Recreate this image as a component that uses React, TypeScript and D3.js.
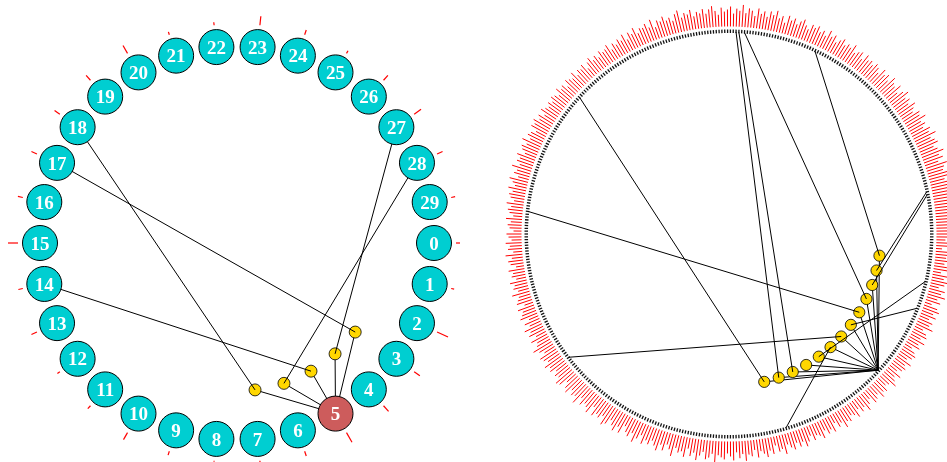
import React from "react";
import * as d3 from "d3";

// ---------- LEFT CHART DATA ----------
const leftNodes = d3.range(30); // node ids 0..29
const leftHub = 5;
const leftTickValues = [4, 3, 12, 7, 7.5, 11, 5, 1.5, 1, 4, 8, 4, 3, 6, 4.5, 10, 5, 6, 6.5, 6.5, 9, 3, 3, 9, 5, 3, 6.5, 8.5, 6, 4];
// targets of the yellow branch points, ordered by position (clockwise from hub-side start)
const leftBranchTargets = [17, 27, 14, 28, 18];

// ---------- RIGHT CHART DATA ----------
const rightCount = 450;
const rightHub = 53;
const rightBarValues = [
  12,15,9,17,13,6,14,18,11,16,10,13,19,8,15,12,17,14,9,16,13,18,11,15,7,14,17,12,16,10,
  15,13,18,9,14,16,11,17,12,15,8,13,16,14,10,17,12,15,13,9,16,11,14,18,12,10,15,13,17,11,
  14,16,9,13,18,12,15,10,17,13,11,16,14,19,12,15,9,17,13,16,11,18,14,12,16,10,15,19,13,17,
  12,18,15,11,20,14,16,9,17,13,19,15,12,18,10,16,14,20,13,17,11,19,15,12,18,16,14,21,13,17,
  19,12,16,21,14,18,11,20,15,17,13,22,16,12,19,14,21,17,13,18,15,20,12,17,22,14,19,16,11,20,
  15,21,17,13,19,22,14,18,16,20,12,21,17,15,19,13,22,16,18,14,20,17,12,19,21,15,17,13,18,16,
  20,14,17,19,12,16,21,15,13,18,11,17,14,19,12,16,10,18,15,13,17,9,16,14,12,18,11,15,13,17,
  10,14,12,16,8,13,15,11,17,9,14,12,16,10,13,15,8,12,14,11,16,9,13,15,12,17,10,14,16,13,
  18,12,15,19,11,16,14,20,13,17,15,19,12,16,18,14,20,13,17,15,11,18,16,19,14,17,12,18,15,13,
  16,13,17,15,12,18,14,16,11,17,15,13,18,12,16,14,17,10,15,18,13,16,12,17,14,15,18,11,16,13,
  17,14,19,12,18,15,20,13,17,16,19,14,21,12,18,16,20,15,17,13,19,22,14,18,16,20,13,17,15,19,
  14,18,21,16,12,19,15,17,20,13,18,16,22,14,19,17,12,20,15,18,13,19,16,21,14,17,11,19,15,18,
  13,17,20,15,12,18,16,19,14,17,13,20,15,18,12,16,19,14,17,15,20,13,16,18,12,19,15,17,14,18,
  16,12,19,15,18,13,20,16,14,19,12,17,21,15,18,14,20,16,13,19,17,22,15,18,14,20,17,23,16,19,
  21,15,18,23,17,20,14,22,18,16,21,19,15,24,17,20,16,22,18,14,20,17,19,15,21,13,18,16,20,14,
];
// far targets of each yellow branch point (ordered from smallest angle to largest)
const rightBranchTargets: number[][] = [
  [369], [435], [436], [343], [233], [27], [178], [92], [17], [], [341], [340], [278],
];

// ---------- LAYOUT ----------
const W = 947, H = 462;
const L = { cx: 237, cy: 243, R: 197, nodeR: 17.5, yR: 148, yr: 6, tick0: 219, spacing: 11.5 };
const Rt = { cx: 729, cy: 234, R: 202, t0: 201, t1: 204.5, bar0: 207.5, yR: 152, yr: 5.6, spacing: 5.7 };

const deg = Math.PI / 180;
function polar(cx: number, cy: number, r: number, a: number): [number, number] {
  return [cx + r * Math.cos(a), cy + r * Math.sin(a)];
}

export default function App() {
  // Left scales
  const angL = d3.scaleLinear().domain([0, leftNodes.length]).range([0, 2 * Math.PI]);
  const tickLen = d3.scaleLinear().domain([0, 1]).range([0, 1]);
  const hubA = angL(leftHub);
  const nL = leftBranchTargets.length;
  const leftYellow = leftBranchTargets.map((t, k) => {
    const a = hubA + (k - (nL - 1) / 2) * L.spacing * deg;
    return { t, p: polar(L.cx, L.cy, L.yR, a) };
  });
  const nodePos = (i: number) => polar(L.cx, L.cy, L.R, angL(i));
  const hubP = nodePos(leftHub);

  // Right scales
  const angR = d3.scaleLinear().domain([0, rightCount]).range([0, 2 * Math.PI]);
  const rHubA = angR(rightHub);
  const rHubP = polar(Rt.cx, Rt.cy, Rt.R, rHubA);
  const nR = rightBranchTargets.length;
  const rightYellow = rightBranchTargets.map((ts, k) => {
    const a = rHubA + (k - (nR - 1) / 2) * Rt.spacing * deg;
    return { ts, p: polar(Rt.cx, Rt.cy, Rt.yR, a) };
  });

  return (
    <svg width={W} height={H} style={{ position: "fixed", left: 0, top: 0 }}>
      {/* ===== LEFT ===== */}
      <g>
        {leftTickValues.map((v, i) => {
          const a = angL(i);
          const p0 = polar(L.cx, L.cy, L.tick0, a);
          const p1 = polar(L.cx, L.cy, L.tick0 + tickLen(v), a);
          return <line key={"lt" + i} x1={p0[0]} y1={p0[1]} x2={p1[0]} y2={p1[1]} stroke="#ff0000" strokeWidth={1.2} />;
        })}
        {leftYellow.map((y, k) => (
          <line key={"lh" + k} x1={hubP[0]} y1={hubP[1]} x2={y.p[0]} y2={y.p[1]} stroke="#000" strokeWidth={1} />
        ))}
        {leftYellow.map((y, k) => (
          <circle key={"ly" + k} cx={y.p[0]} cy={y.p[1]} r={L.yr} fill="#ffd700" stroke="#000" strokeWidth={0.8} />
        ))}
        {leftYellow.map((y, k) => {
          const tp = nodePos(y.t);
          return <line key={"lf" + k} x1={tp[0]} y1={tp[1]} x2={y.p[0]} y2={y.p[1]} stroke="#000" strokeWidth={1} />;
        })}
        {leftNodes.map((i) => {
          const p = nodePos(i);
          return (
            <g key={"ln" + i}>
              <circle cx={p[0]} cy={p[1]} r={L.nodeR} fill={i === leftHub ? "#cd5c5c" : "#00ced1"} stroke="#000" strokeWidth={1} />
              <text x={p[0]} y={p[1]} dy="0.35em" textAnchor="middle" fill="#fff" fontFamily="'Liberation Serif', serif" fontWeight="bold" fontSize={19}>
                {i}
              </text>
            </g>
          );
        })}
      </g>

      {/* ===== RIGHT ===== */}
      <g>
        {rightBarValues.map((v, i) => {
          const a = angR(i);
          const p0 = polar(Rt.cx, Rt.cy, Rt.bar0, a);
          const p1 = polar(Rt.cx, Rt.cy, Rt.bar0 + tickLen(v), a);
          return <line key={"rb" + i} x1={p0[0]} y1={p0[1]} x2={p1[0]} y2={p1[1]} stroke="#ff0000" strokeWidth={1} />;
        })}
        {d3.range(rightCount).map((i) => {
          const a = angR(i);
          const p0 = polar(Rt.cx, Rt.cy, Rt.t0, a);
          const p1 = polar(Rt.cx, Rt.cy, Rt.t1, a);
          return <line key={"rt" + i} x1={p0[0]} y1={p0[1]} x2={p1[0]} y2={p1[1]} stroke="#111" strokeWidth={1.3} />;
        })}
        {rightYellow.map((y, k) => (
          <line key={"rh" + k} x1={rHubP[0]} y1={rHubP[1]} x2={y.p[0]} y2={y.p[1]} stroke="#000" strokeWidth={1} />
        ))}
        {rightYellow.map((y, k) => (
          <circle key={"ry" + k} cx={y.p[0]} cy={y.p[1]} r={Rt.yr} fill="#ffd700" stroke="#000" strokeWidth={0.8} />
        ))}
        {rightYellow.flatMap((y, k) =>
          y.ts.map((t, j) => {
            const tp = polar(Rt.cx, Rt.cy, Rt.R, angR(t));
            return <line key={"rf" + k + "_" + j} x1={tp[0]} y1={tp[1]} x2={y.p[0]} y2={y.p[1]} stroke="#000" strokeWidth={1} />;
          })
        )}
      </g>
    </svg>
  );
}
